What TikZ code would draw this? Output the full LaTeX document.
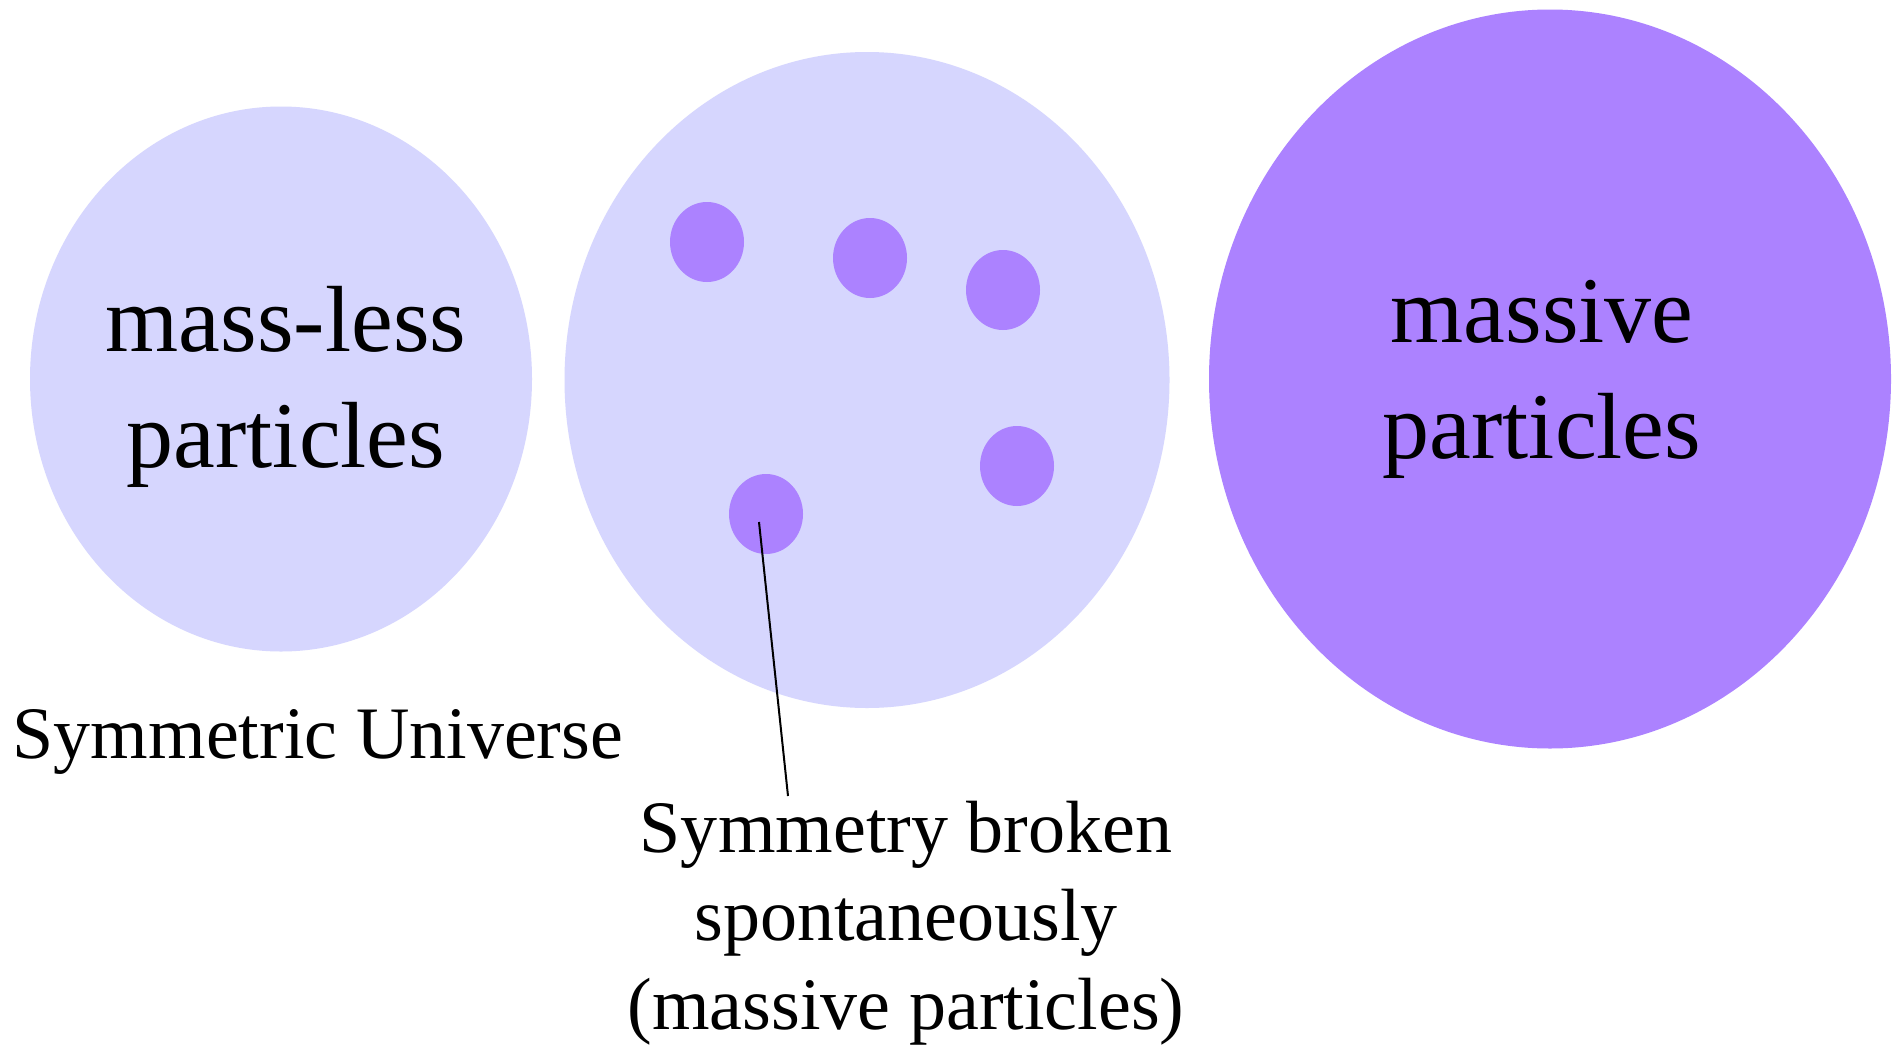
\documentclass[tikz,border=0pt]{standalone}
\usepackage{fontspec}
\setmainfont{Liberation Serif}
\usetikzlibrary{shapes.geometric}
\definecolor{lightlav}{RGB}{214,214,254}
\definecolor{midpurple}{RGB}{172,130,255}
\begin{document}
\begin{tikzpicture}[x=0.5pt,y=-0.5pt,
  blob/.style={ellipse, inner sep=0pt, draw=none},
  bigtext/.style={inner sep=0pt, align=center, font=\fontsize{47}{58}\selectfont},
  smalltext/.style={inner sep=0pt, align=center, font=\fontsize{37}{44.2}\selectfont},
  dot/.style={blob, fill=midpurple, minimum width=37pt, minimum height=40pt}]
\useasboundingbox[fill=white] (0,0) rectangle (1894,1044);
% big ellipses
\node[blob, fill=lightlav, minimum width=251pt, minimum height=272.5pt] (left) at (281,379) {};
\node[blob, fill=lightlav, minimum width=302.5pt, minimum height=328pt] (mid) at (867,380) {};
\node[blob, fill=midpurple, minimum width=341pt, minimum height=369.5pt] (right) at (1550,379) {};
% small particles
\node[dot] (d1) at (707,242) {};
\node[dot] (d2) at (870,258) {};
\node[dot] (d3) at (1003,290) {};
\node[dot] (d4) at (1017,466) {};
\node[dot] (d5) at (766,514) {};
% labels (base = baseline of the last line)
\node[bigtext, anchor=base] (lefttext) at (286,467) {mass-less\\particles};
\node[bigtext, anchor=base] (righttext) at (1542,458) {massive\\particles};
\node[smalltext, anchor=base] (symtext) at (318,758) {Symmetric Universe};
\node[smalltext, anchor=base] (brokentext) at (906,1029) {Symmetry broken\\spontaneously\\(massive particles)};
% pointer
\coordinate (lstart) at (759,522);
\coordinate (lend) at (788,796);
\draw[line width=1pt, black] (lstart) -- (lend);
\end{tikzpicture}
\end{document}
